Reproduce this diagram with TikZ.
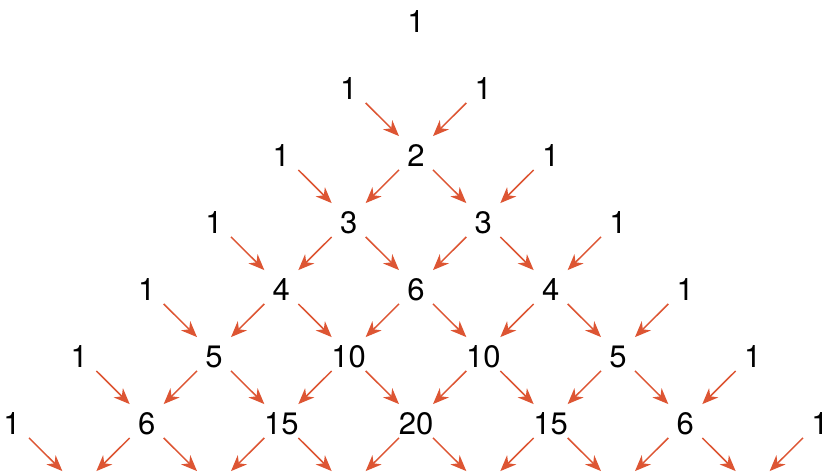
\documentclass[tikz,border=0pt]{standalone}
\usepackage{fontspec}
\setmainfont{TeX Gyre Heros}
\usetikzlibrary{arrows.meta}
\definecolor{arrc}{RGB}{221,85,51}
\tikzset{
  num/.style={inner sep=0pt, outer sep=0pt, font=\fontsize{31}{37}\selectfont},
  arr/.style={draw=arrc, line width=1.5pt, -{Stealth[length=16pt,width=13pt,inset=5pt]},
    shorten <=24pt, shorten >=24pt}
}
\begin{document}
\begin{tikzpicture}[x=1pt,y=-1pt]
\useasboundingbox (0,0) rectangle (831,472);
\foreach \r/\vals in {0/{1},1/{1,1},2/{1,2,1},3/{1,3,3,1},4/{1,4,6,4,1},5/{1,5,10,10,5,1},6/{1,6,15,20,15,6,1}}{
  \foreach \v [count=\c] in \vals {
    \pgfmathtruncatemacro\k{\c-1}
    \node[num] (n\r-\k) at ({416+(2*\k-\r)*67.33}, {22+\r*67}) {\v};
  }
}
\foreach \k in {0,...,7}{
  \coordinate (n7-\k) at ({416+(2*\k-7)*67.33}, {22+7*67});
}
\foreach \r in {1,...,6}{
  \pgfmathtruncatemacro\rr{\r+1}
  \pgfmathtruncatemacro\last{\r-1}
  \foreach \k in {0,...,\last}{
    \pgfmathtruncatemacro\kk{\k+1}
    \draw[arr] ([yshift=3pt]n\r-\k.center) -- ([yshift=3pt]n\rr-\kk.center);
  }
  \foreach \k in {1,...,\r}{
    \draw[arr] ([yshift=3pt]n\r-\k.center) -- ([yshift=3pt]n\rr-\k.center);
  }
}
\end{tikzpicture}
\end{document}
